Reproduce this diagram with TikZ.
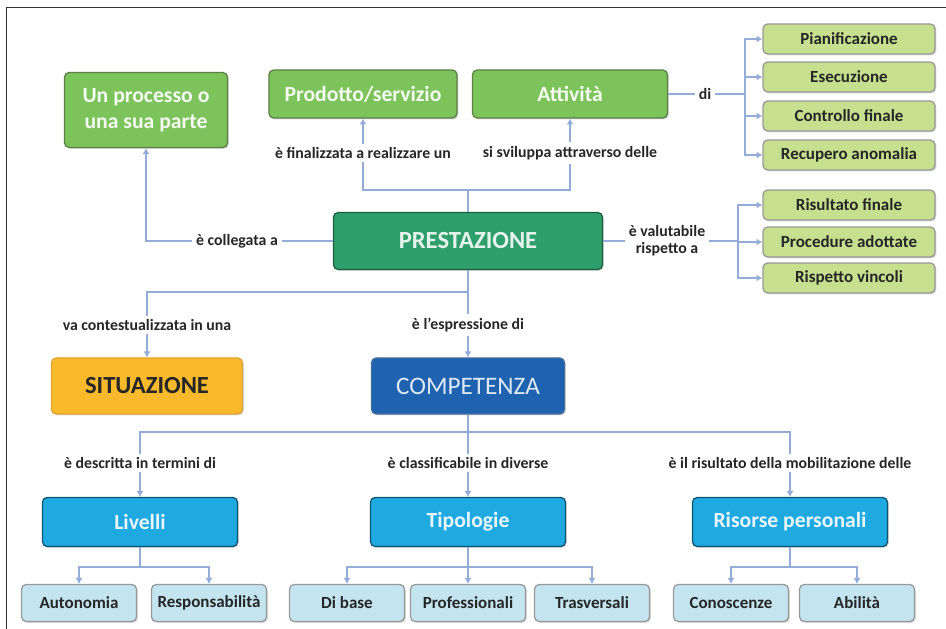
\documentclass[tikz,border=0pt]{standalone}
\usepackage{fontspec}
\setmainfont{Carlito}
\usetikzlibrary{arrows.meta,shadows}

\definecolor{grn}{HTML}{7DC35B}
\definecolor{grnline}{HTML}{5E7F48}
\definecolor{ltgrn}{HTML}{C6E08F}
\definecolor{prestc}{HTML}{2E9E6B}
\definecolor{yel}{HTML}{F8B92A}
\definecolor{blu}{HTML}{1E62B0}
\definecolor{cyn}{HTML}{1FA9E1}
\definecolor{ltblu}{HTML}{C4E5F0}
\definecolor{lnkc}{HTML}{94ACD8}
\definecolor{txt}{HTML}{262626}

\tikzset{
  box/.style={rounded corners=4pt, line width=1.1pt, inner sep=0pt, align=center,
    drop shadow={shadow xshift=1.2pt, shadow yshift=-1.2pt, opacity=.3}},
  gbox/.style={box, fill=grn, draw=grnline, text=white!92!grn,
    font=\fontsize{18.5}{22.5}\selectfont\bfseries},
  lgbox/.style={box, fill=ltgrn, draw=black!40, text=txt,
    minimum width=5.16cm, minimum height=0.9cm, font=\fontsize{14.5}{16}\selectfont\bfseries},
  bigbox/.style={box, minimum height=1.68cm, font=\fontsize{21}{24}\selectfont\bfseries},
  cbox/.style={box, fill=cyn, draw=cyn!50!black, text=white!90!cyn,
    minimum width=5.85cm, minimum height=1.47cm, font=\fontsize{18.5}{21}\selectfont\bfseries},
  lbbox/.style={box, fill=ltblu, draw=black!40, text=txt,
    minimum width=3.45cm, minimum height=1.11cm, font=\fontsize{14.5}{16}\selectfont\bfseries},
  lab/.style={fill=white, inner sep=3pt, align=center, text=txt,
    font=\fontsize{13.5}{14.5}\selectfont\bfseries},
  lnk/.style={draw=lnkc, line width=1.4pt},
  arr/.style={lnk, -{Latex[length=5pt,width=6pt]}}
}

\begin{document}
\begin{tikzpicture}[x=0.03cm,y=-0.03cm]
  \useasboundingbox (0,0) rectangle (946,629);
  \draw[black!80, line width=0.8pt] (6,7) rectangle (960,640);

  % top row
  \node[gbox, minimum width=4.89cm, minimum height=2.25cm] (processo) at (146,110) {Un processo o\\una sua parte};
  \node[gbox, minimum width=5.64cm, minimum height=1.44cm] (prodotto) at (363,94) {Prodotto/servizio};
  \node[gbox, minimum width=5.85cm, minimum height=1.44cm] (attivita) at (570,94) {Attività};

  \node[lgbox] (pian) at (849,39) {Pianificazione};
  \node[lgbox] (esec) at (849,77) {Esecuzione};
  \node[lgbox] (contr) at (849,116) {Controllo finale};
  \node[lgbox] (recup) at (849,155) {Recupero anomalia};

  \node[lgbox] (risul) at (849,205) {Risultato finale};
  \node[lgbox] (proced) at (849,242) {Procedure adottate};
  \node[lgbox] (rispet) at (849,278) {Rispetto vincoli};

  \node[bigbox, fill=prestc, draw=prestc!60!black, text=white!88!prestc,
    minimum width=8.07cm, minimum height=1.71cm] (prest) at (468,241) {PRESTAZIONE};

  \node[bigbox, fill=yel, draw=yel!60!brown, text=txt, minimum width=5.73cm] (situazione) at (147,386) {SITUAZIONE};
  \node[bigbox, fill=blu, draw=blu!60!gray, text=white!85!blu, minimum width=5.79cm,
    font=\fontsize{21.5}{24}\selectfont] (competenza) at (468,386) {COMPETENZA};

  \node[cbox] (livelli) at (140,522) {Livelli};
  \node[cbox] (tipologie) at (468,522) {Tipologie};
  \node[cbox] (risorse) at (790,522) {Risorse personali};

  \node[lbbox] (autonomia) at (79,603) {Autonomia};
  \node[lbbox] (respons) at (209,603) {Responsabilità};
  \node[lbbox] (dibase) at (347,603) {Di base};
  \node[lbbox] (profess) at (468,603) {Professionali};
  \node[lbbox] (trasv) at (592,603) {Trasversali};
  \node[lbbox] (conosc) at (731,603) {Conoscenze};
  \node[lbbox] (abilita) at (857,603) {Abilità};

  % labels
  \node[lab] (lcoll) at (237,241) {è collegata a};
  \node[lab] (lfin) at (363,153) {è finalizzata a realizzare un};
  \node[lab] (lsvi) at (570,153) {si sviluppa attraverso delle};
  \node[lab] (ldi) at (705,94) {di};
  \node[lab] (lval) at (667,241) {è valutabile\\rispetto a};
  \node[lab] (lcon) at (147,325) {va contestualizzata in una};
  \node[lab] (lesp) at (468,325) {è l'espressione di};
  \node[lab] (ldes) at (140,463) {è descritta in termini di};
  \node[lab] (lcla) at (468,463) {è classificabile in diverse};
  \node[lab] (lris) at (790,463) {è il risultato della mobilitazione delle};

  \coordinate (jtop) at (468,190);
  \coordinate (jdi) at (745,94);
  \coordinate (jval) at (738,241);
  \coordinate (jmid) at (468,292);
  \coordinate (jcomp) at (468,432);
  \coordinate (jliv) at (140,567);
  \coordinate (jtip) at (468,567);
  \coordinate (jris) at (790,567);

  % connectors
  \draw[lnk] (prest) -- (lcoll);
  \draw[arr] (lcoll) -| (processo);

  \draw[lnk] (prest) -- (jtop);
  \draw[lnk] (jtop) -| (lfin);
  \draw[lnk] (jtop) -| (lsvi);
  \draw[arr] (lfin) -- (prodotto);
  \draw[arr] (lsvi) -- (attivita);

  \draw[lnk] (attivita) -- (ldi);
  \draw[lnk] (ldi) -- (jdi);
  \foreach \n in {pian,esec,contr,recup}
    \draw[arr] (jdi) |- (\n);

  \draw[lnk] (prest) -- (lval);
  \draw[lnk] (lval) -- (jval);
  \foreach \n in {risul,proced,rispet}
    \draw[arr] (jval) |- (\n);

  \draw[lnk] (prest) -- (jmid);
  \draw[lnk] (jmid) -| (lcon);
  \draw[lnk] (jmid) -- (lesp);
  \draw[arr] (lcon) -- (situazione);
  \draw[arr] (lesp) -- (competenza);

  \draw[lnk] (competenza) -- (jcomp);
  \draw[lnk] (jcomp) -| (ldes);
  \draw[lnk] (jcomp) -- (lcla);
  \draw[lnk] (jcomp) -| (lris);
  \draw[arr] (ldes) -- (livelli);
  \draw[arr] (lcla) -- (tipologie);
  \draw[arr] (lris) -- (risorse);

  \draw[lnk] (livelli) -- (jliv);
  \draw[arr] (jliv) -| (autonomia);
  \draw[arr] (jliv) -| (respons);
  \draw[lnk] (tipologie) -- (jtip);
  \draw[arr] (jtip) -| (dibase);
  \draw[arr] (jtip) -- (profess);
  \draw[arr] (jtip) -| (trasv);
  \draw[lnk] (risorse) -- (jris);
  \draw[arr] (jris) -| (conosc);
  \draw[arr] (jris) -| (abilita);
\end{tikzpicture}
\end{document}
